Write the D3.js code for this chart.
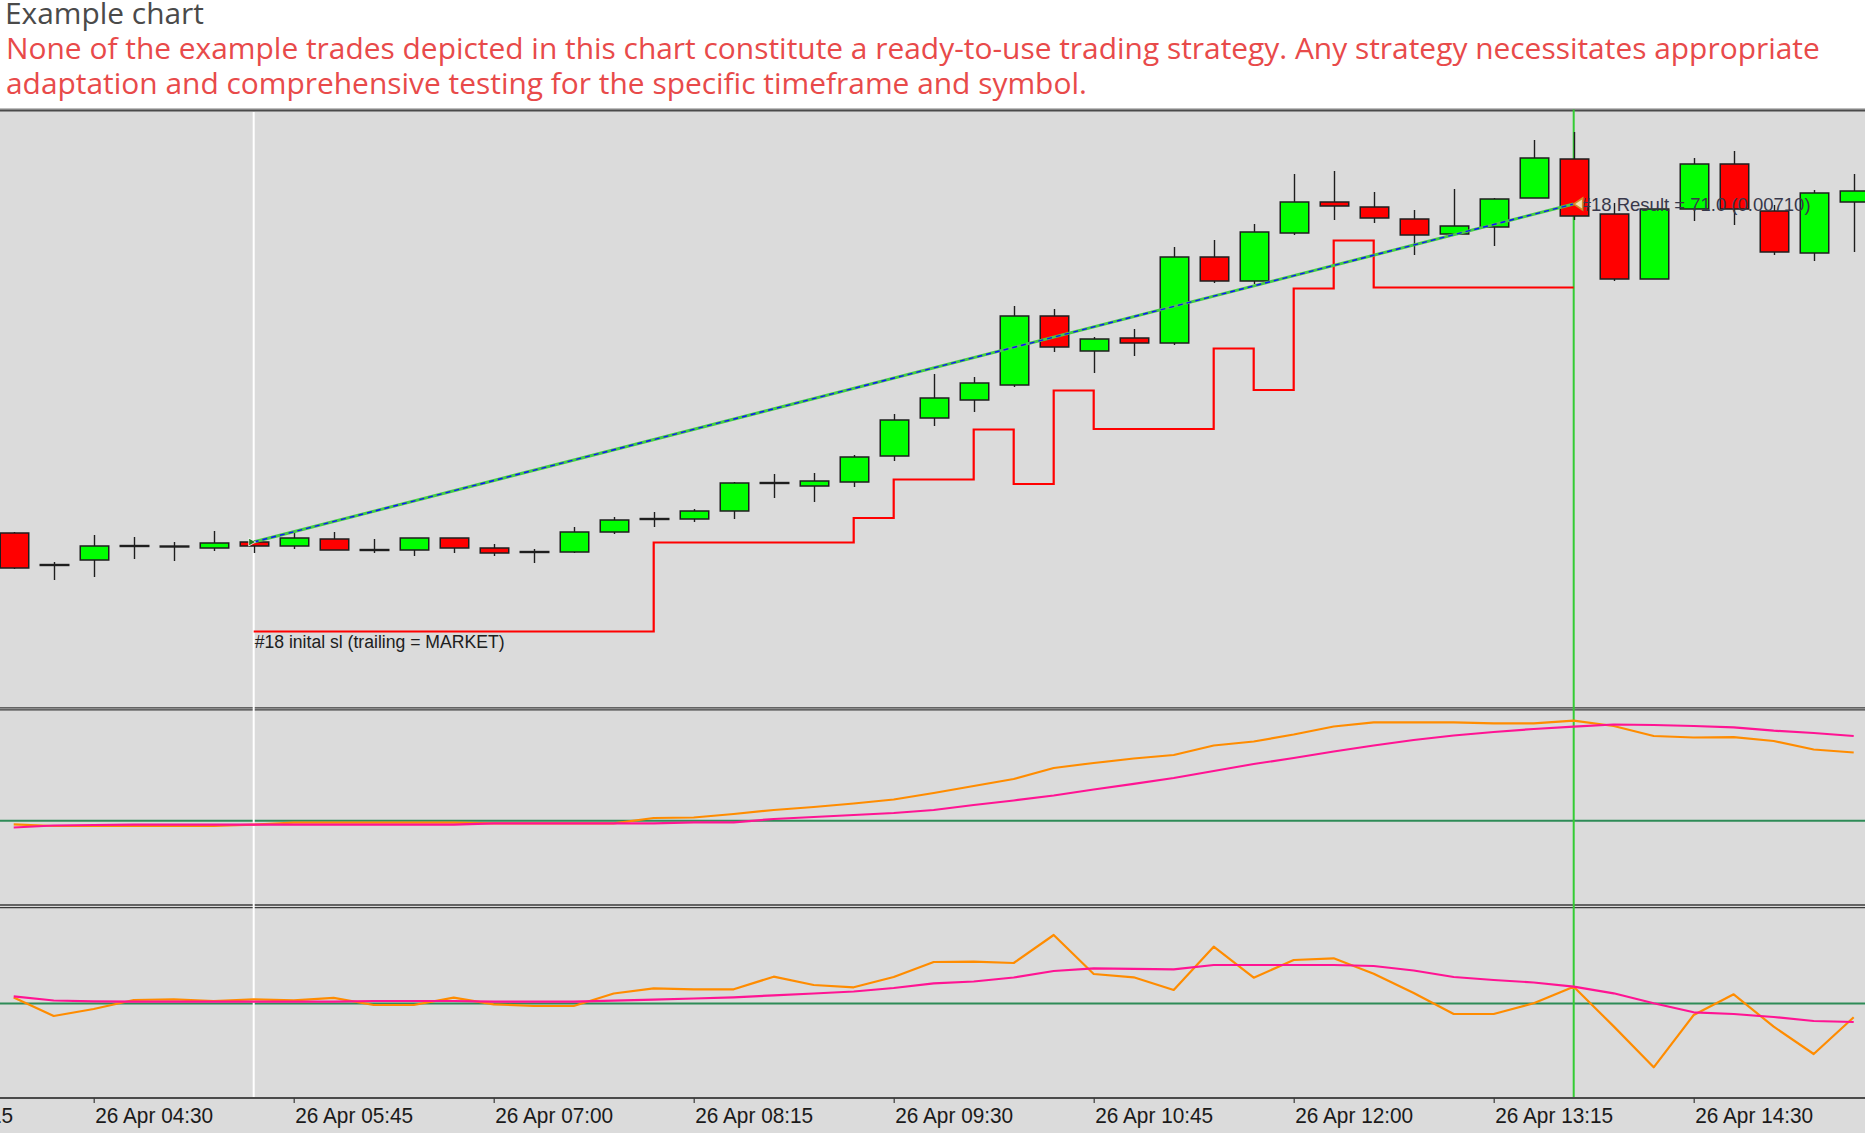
<!DOCTYPE html>
<html><head><meta charset="utf-8">
<script src="https://cdn.jsdelivr.net/npm/d3@7"></script>
<style>
html,body{margin:0;padding:0;background:#fff;}
svg{display:block;}
</style></head>
<body>
<svg id="chart" width="1865" height="1133"></svg>
<script>
// ---------------- DATA ----------------
const titleText = "Example chart";
const disclaimerLines = [
  "None of the example trades depicted in this chart constitute a ready-to-use trading strategy. Any strategy necessitates appropriate",
  "adaptation and comprehensive testing for the specific timeframe and symbol."
];
const tradeDate = "2024-04-26";
const barTimes = ["04:00","04:15","04:30","04:45","05:00","05:15","05:30","05:45","06:00","06:15",
  "06:30","06:45","07:00","07:15","07:30","07:45","08:00","08:15","08:30","08:45",
  "09:00","09:15","09:30","09:45","10:00","10:15","10:30","10:45","11:00","11:15",
  "11:30","11:45","12:00","12:15","12:30","12:45","13:00","13:15","13:30","13:45",
  "14:00","14:15","14:30","14:45","15:00","15:15","15:30"];
const tickTimes = ["03:15","04:30","05:45","07:00","08:15","09:30","10:45","12:00","13:15","14:30"];

const openP = [1.07018,1.06954,1.06964,1.06992,1.06992,1.06988,1.07000,1.06992,1.07006,1.06984,
  1.06984,1.07008,1.06988,1.06980,1.06980,1.07020,1.07046,1.07046,1.07062,1.07118,
  1.07112,1.07120,1.07172,1.07248,1.07284,1.07314,1.07452,1.07382,1.07408,1.07398,
  1.07570,1.07522,1.07618,1.07680,1.07670,1.07646,1.07616,1.07630,1.07688,1.07766,
  1.07656,1.07526,1.07666,1.07756,1.07662,1.07578,1.07680];
const highP = [1.07020,1.06960,1.07014,1.07010,1.07000,1.07022,1.07004,1.07020,1.07020,1.07006,
  1.07008,1.07008,1.06996,1.06986,1.07030,1.07050,1.07060,1.07066,1.07120,1.07136,
  1.07138,1.07174,1.07256,1.07336,1.07330,1.07472,1.07466,1.07410,1.07426,1.07590,
  1.07604,1.07636,1.07736,1.07742,1.07700,1.07664,1.07706,1.07688,1.07804,1.07820,
  1.07678,1.07666,1.07768,1.07782,1.07674,1.07704,1.07736];
const lowP = [1.06946,1.06924,1.06930,1.06966,1.06962,1.06982,1.06978,1.06986,1.06984,1.06978,
  1.06972,1.06978,1.06972,1.06958,1.06978,1.07016,1.07030,1.07040,1.07046,1.07088,
  1.07080,1.07110,1.07162,1.07232,1.07260,1.07310,1.07380,1.07338,1.07372,1.07394,
  1.07518,1.07516,1.07614,1.07644,1.07638,1.07574,1.07614,1.07592,1.07688,1.07644,
  1.07522,1.07526,1.07642,1.07634,1.07574,1.07562,1.07580];
const closeP = [1.06948,1.06954,1.06992,1.06992,1.06990,1.06998,1.06992,1.07008,1.06984,1.06984,
  1.07008,1.06988,1.06978,1.06980,1.07020,1.07044,1.07046,1.07062,1.07118,1.07118,
  1.07122,1.07170,1.07244,1.07288,1.07318,1.07452,1.07390,1.07406,1.07398,1.07570,
  1.07522,1.07620,1.07680,1.07672,1.07648,1.07614,1.07632,1.07686,1.07768,1.07652,
  1.07526,1.07666,1.07756,1.07666,1.07580,1.07698,1.07702];

// trailing stop loss per bar (null = no open trade)
const stopLoss = [null,null,null,null,null,null,
  1.06821,1.06821,1.06821,1.06821,1.06821,1.06821,1.06821,1.06821,1.06821,1.06821,
  1.06999,1.06999,1.06999,1.06999,1.06999,
  1.07048,1.07125,1.07125,1.07225,1.07116,1.07303,1.07226,1.07226,1.07226,
  1.07387,1.07304,1.07507,1.07603,
  1.07509,1.07509,1.07509,1.07509,1.07509,1.07509,
  null,null,null,null,null,null,null];

const entryTime = "05:30", entryPrice = 1.07000;
const exitTime = "13:45", exitPrice = 1.07676;
const slLabel = "#18 inital sl (trailing = MARKET)";
const resultLabel = "#18 Result = 71.0 (0.00710)";

// indicator pane 1
const ind1Orange = [-0.036,-0.053,-0.053,-0.053,-0.053,-0.053,-0.040,-0.020,-0.020,-0.020,
  -0.020,-0.020,-0.026,-0.026,-0.026,-0.026,0.027,0.032,0.067,0.107,
  0.137,0.172,0.212,0.277,0.347,0.417,0.527,0.577,0.622,0.657,
  0.752,0.792,0.862,0.942,0.984,0.984,0.984,0.974,0.974,1.000,
  0.947,0.847,0.832,0.835,0.797,0.712,0.682];
const ind1Pink = [-0.068,-0.048,-0.043,-0.040,-0.040,-0.040,-0.040,-0.040,-0.040,-0.040,
  -0.040,-0.040,-0.026,-0.026,-0.026,-0.026,-0.026,-0.016,-0.016,0.017,
  0.037,0.057,0.077,0.107,0.157,0.202,0.252,0.312,0.369,0.427,
  0.497,0.567,0.627,0.692,0.752,0.807,0.852,0.887,0.917,0.940,
  0.962,0.957,0.947,0.934,0.900,0.877,0.847];
const ind1Level = 0;

// indicator pane 2
const ind2Orange = [3.0,-6.25,-2.75,1.75,2.1,1.25,2.1,1.6,2.85,-0.75,
  -0.75,2.9,-0.4,-1.25,-1.25,5.0,7.6,7.1,7.1,13.4,
  9.25,8.1,13.25,20.75,20.9,20.25,34.25,14.75,13.1,6.75,
  28.4,12.9,21.75,22.6,14.85,5.25,-5.25,-5.25,0.1,8.4,
  -11.45,-31.9,-5.75,4.6,-11.6,-25.25,-6.9];
const ind2Pink = [3.6,1.5,1.1,0.9,0.9,0.9,0.9,0.9,0.9,1.25,
  1.25,1.25,0.9,0.9,0.9,1.4,1.9,2.5,3.1,4.1,
  5.0,6.0,7.75,10.1,11.0,13.0,16.25,17.6,17.35,17.1,
  19.25,19.25,19.25,19.25,18.75,16.5,13.25,11.75,10.5,8.4,
  5.1,0.1,-4.4,-5.25,-6.75,-8.75,-9.25];
const ind2Level = 0;

// ---------------- CHART ----------------
const W = 1865, H = 1133;
const svg = d3.select("#chart");
const parse = d3.timeParse("%Y-%m-%d %H:%M");
const toDate = t => parse(tradeDate + " " + t);
const dates = barTimes.map(toDate);

const mainTop = 112, mainBot = 707;
const p1Top = 712, p1Bot = 904;
const p2Top = 909, p2Bot = 1096;
const axisY = 1098;

const x = d3.scaleTime().domain([dates[0], dates[dates.length - 1]]).range([13.7, 1853.7]);
const y = d3.scaleLinear().domain([1.0667, 1.0786]).range([mainBot, mainTop]);
const y1 = d3.scaleLinear().domain([-0.833, 1.087]).range([p1Bot, p1Top]);
const y2 = d3.scaleLinear().domain([-46.25, 47.25]).range([p2Bot, p2Top]);

const grey = "#dbdbdb";
svg.append("rect").attr("width", W).attr("height", H).attr("fill", "#fff");
svg.append("rect").attr("x", 0).attr("y", 109).attr("width", W).attr("height", H - 109).attr("fill", grey);

// top border
svg.append("line").attr("x1", 0).attr("x2", W).attr("y1", 108.8).attr("y2", 108.8).attr("stroke", "#a8a8a8").attr("stroke-width", 1.2);
svg.append("line").attr("x1", 0).attr("x2", W).attr("y1", 110.6).attr("y2", 110.6).attr("stroke", "#4a4a4a").attr("stroke-width", 2);

// pane separators (double lines)
[707.8, 709.9, 905.0, 907.6].forEach(v => {
  svg.append("line").attr("x1", 0).attr("x2", W).attr("y1", v).attr("y2", v)
    .attr("stroke", "#3c3c3c").attr("stroke-width", 1.3);
});

// title + disclaimer
function fitText(sel, target) {
  const w = sel.node().getComputedTextLength();
  const fs = parseFloat(sel.attr("font-size"));
  sel.attr("font-size", (fs * target / w).toFixed(2));
  return fs * target / w;
}
const title = svg.append("text").attr("x", 5).attr("y", 24).attr("font-family", "'Open Sans', 'Noto Sans', sans-serif")
  .attr("font-size", 28).attr("fill", "#4a4a4a").text(titleText);
fitText(title, 199);
const l1 = svg.append("text").attr("x", 6).attr("y", 58.5).attr("font-family", "'Open Sans', 'Noto Sans', sans-serif")
  .attr("font-size", 28).attr("fill", "#e84a4a").text(disclaimerLines[0]);
const fs1 = fitText(l1, 1814);
svg.append("text").attr("x", 6).attr("y", 93.5).attr("font-family", "'Open Sans', 'Noto Sans', sans-serif")
  .attr("font-size", fs1.toFixed(2)).attr("fill", "#e84a4a").text(disclaimerLines[1]);

// level lines
svg.append("line").attr("x1", 0).attr("x2", W).attr("y1", y1(ind1Level)).attr("y2", y1(ind1Level))
  .attr("stroke", "#2e8b57").attr("stroke-width", 2);
svg.append("line").attr("x1", 0).attr("x2", W).attr("y1", y2(ind2Level)).attr("y2", y2(ind2Level))
  .attr("stroke", "#2e8b57").attr("stroke-width", 2);

// vertical entry / exit lines
const xe = x(toDate(entryTime)), xx = x(toDate(exitTime));
svg.append("line").attr("x1", xe).attr("x2", xe).attr("y1", mainTop).attr("y2", axisY - 1)
  .attr("stroke", "#ffffff").attr("stroke-width", 2);
svg.append("line").attr("x1", xx).attr("x2", xx).attr("y1", 109.5).attr("y2", axisY - 1)
  .attr("stroke", "#33cc33").attr("stroke-width", 2);

// indicator lines
function drawLine(vals, ys, color) {
  const line = d3.line().x((d, i) => x(dates[i])).y(d => ys(d));
  svg.append("path").datum(vals).attr("d", line).attr("fill", "none")
    .attr("stroke", color).attr("stroke-width", 2.2).attr("stroke-linejoin", "round");
}
drawLine(ind1Orange, y1, "#ff8c00");
drawLine(ind1Pink, y1, "#ff1493");
drawLine(ind2Orange, y2, "#ff8c00");
drawLine(ind2Pink, y2, "#ff1493");

// candles
const bars = barTimes.map((t, i) => ({ d: dates[i], o: openP[i], h: highP[i], l: lowP[i], c: closeP[i] }));
const bw = 30;
const cg = svg.append("g");
bars.forEach(b => {
  const cx = Math.round(x(b.d)) + 0.5;
  cg.append("line").attr("x1", cx).attr("x2", cx).attr("y1", y(b.h)).attr("y2", y(b.l))
    .attr("stroke", "#1e1e1e").attr("stroke-width", 1.4);
  const yo = y(b.o), yc = y(b.c);
  if (Math.abs(yo - yc) < 1.5) {
    cg.append("line").attr("x1", cx - bw / 2).attr("x2", cx + bw / 2).attr("y1", (yo + yc) / 2).attr("y2", (yo + yc) / 2)
      .attr("stroke", "#1e1e1e").attr("stroke-width", 2.4);
  } else {
    cg.append("rect").attr("x", cx - bw / 2 + 0.75).attr("width", bw - 1.5)
      .attr("y", Math.min(yo, yc)).attr("height", Math.abs(yo - yc))
      .attr("fill", b.c > b.o ? "#00ff00" : "#ff0000")
      .attr("stroke", "#1e1e1e").attr("stroke-width", 1.5);
  }
});

// trailing stop loss
const slLine = d3.line().defined(d => d != null).curve(d3.curveStepAfter)
  .x((d, i) => x(dates[i])).y(d => y(d));
svg.append("path").datum(stopLoss).attr("d", slLine).attr("fill", "none")
  .attr("stroke", "#ff0000").attr("stroke-width", 2.2);
const firstSL = stopLoss.findIndex(v => v != null);
svg.append("text").attr("x", x(dates[firstSL]) + 1).attr("y", y(stopLoss[firstSL]) + 16.5)
  .attr("font-family", "'Liberation Sans', Arial, sans-serif").attr("font-size", 17.6)
  .attr("fill", "#202020").text(slLabel);

// trade line
const ye = y(entryPrice), yx = y(exitPrice);
svg.append("line").attr("x1", xe).attr("y1", ye).attr("x2", xx).attr("y2", yx)
  .attr("stroke", "#44cc44").attr("stroke-width", 3);
svg.append("line").attr("x1", xe).attr("y1", ye).attr("x2", xx).attr("y2", yx)
  .attr("stroke", "#1010ff").attr("stroke-width", 1.4).attr("stroke-dasharray", "5,4");
// entry marker
svg.append("path").attr("d", `M${xe - 5},${ye - 4} L${xe + 2},${ye} L${xe - 5},${ye + 4} Z`)
  .attr("fill", "#1f7a1f").attr("stroke", "#ffffff").attr("stroke-width", 0.8);
// result text + exit marker
svg.append("text").attr("x", xx + 7).attr("y", yx + 6.5)
  .attr("font-family", "'Liberation Sans', Arial, sans-serif").attr("font-size", 18.5)
  .attr("fill", "#38384a").text(resultLabel);
svg.append("path").attr("d", `M${xx + 9},${yx - 6} L${xx},${yx} L${xx + 9},${yx + 6} Z`)
  .attr("fill", "#f6e2b0").attr("stroke", "#d48a22").attr("stroke-width", 1.6);

// x axis
svg.append("line").attr("x1", 0).attr("x2", W).attr("y1", axisY).attr("y2", axisY)
  .attr("stroke", "#4a4a4a").attr("stroke-width", 2);
const fmt = d3.timeFormat("%d %b %H:%M");
const axis = d3.axisBottom(x).tickValues(tickTimes.map(toDate)).tickFormat(fmt).tickSize(5).tickSizeOuter(0);
const ag = svg.append("g").attr("transform", `translate(0,${axisY})`).call(axis);
ag.select(".domain").remove();
ag.selectAll(".tick line").attr("stroke", "#3a3a3a").attr("stroke-width", 1.2);
ag.selectAll(".tick text").attr("text-anchor", "start").attr("x", 1).attr("y", 9).attr("dy", "0.71em")
  .attr("font-family", "'Liberation Sans Narrow', 'Liberation Sans', Arial, sans-serif")
  .attr("font-size", 22).attr("fill", "#1a1a1a")
  .attr("textLength", 118).attr("lengthAdjust", "spacingAndGlyphs");
</script>
</body></html>
